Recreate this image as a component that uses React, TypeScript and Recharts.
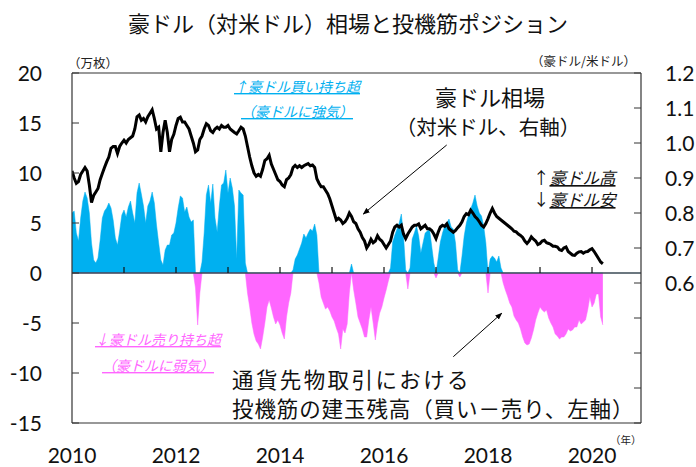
import React from "react";
import {
  ComposedChart,
  Area,
  Line,
  XAxis,
  YAxis,
  ReferenceLine,
} from "recharts";

// semimonthly observations starting Jan 2010
const START_YEAR = 2010;
const STEP = 1 / 24;

// speculative net positions (10k contracts)
const POSITIONS = [
  // 2010
  6.0, 6.2, 4.0, 3.2, 5.5, 7.2, 8.1, 7.5, 6.0, 3.0, 1.3, 1.0,
  1.5, 3.3, 5.5, 6.2, 6.5, 7.0, 6.5, 5.3, 3.5, 2.8, 4.2, 5.8,
  // 2011
  6.3, 5.6, 6.6, 7.2, 6.0, 5.0, 8.0, 9.0, 7.9, 6.7, 5.0, 6.7,
  7.2, 8.1, 7.0, 4.8, 3.0, 1.3, 0.8, 2.3, 2.8, 2.8, 3.8, 4.0,
  // 2012
  5.0, 6.5, 7.7, 7.5, 6.1, 6.6, 5.6, 5.1, 5.3, -1.5, -5.2, -2.0,
  1.1, 4.0, 7.8, 8.8, 7.0, 8.9, 5.5, 4.1, 6.7, 8.8, 9.0, 10.3,
  // 2013
  8.0, 9.5, 8.5, 6.7, 1.4, 8.3, 8.0, 7.8, 1.0, -2.0, -3.4, -5.0,
  -6.1, -6.8, -7.1, -7.6, -6.4, -5.0, -3.4, -2.7, -3.5, -4.4, -5.1, -4.7,
  // 2014
  -5.2, -6.0, -6.6, -4.4, -3.0, -2.0, 0.3, 1.4, 1.8, 2.4, 3.0, 3.9,
  3.5, 4.0, 4.4, 4.2, 4.9, 3.8, -1.0, -2.4, -3.0, -3.6, -3.4, -3.8,
  // 2015
  -4.4, -4.8, -5.5, -6.1, -7.6, -5.6, -6.0, -5.1, -2.0, 0.9, -1.7, -3.0,
  -4.4, -5.0, -5.6, -6.4, -6.4, -4.7, -3.4, -5.0, -6.7, -5.1, -4.0, -3.4,
  // 2016
  -2.5, -1.7, -0.8, 0.5, 3.1, 3.8, 4.4, 5.0, 5.9, 3.7, 0.3, -1.6,
  0.5, 3.4, 4.0, 4.7, 3.7, 2.0, 3.0, 4.0, 4.2, 4.4, 2.7, 1.0,
  // 2017
  -0.5, 1.5, 3.1, 4.0, 4.7, 5.0, 5.4, 4.6, 4.4, 3.0, 0.3, -0.4,
  1.7, 3.7, 5.0, 5.8, 6.4, 7.0, 7.8, 6.7, 6.0, 5.7, 4.7, 3.0,
  // 2018
  -2.0, 1.4, 1.7, 1.5, 1.1, 1.7, 0.5, -1.0, -1.7, -2.3, -3.0, -3.4,
  -4.3, -4.7, -5.0, -5.6, -6.4, -7.0, -7.2, -7.1, -6.5, -5.7, -4.7, -4.0,
  // 2019
  -3.4, -3.7, -3.9, -3.7, -4.5, -5.0, -5.4, -6.1, -6.3, -6.6, -6.4, -6.4,
  -6.1, -5.6, -5.8, -5.7, -5.4, -5.4, -4.7, -5.1, -4.9, -4.7, -3.7, -2.4,
  // 2020
  -3.4, -3.0, -2.1, -2.1, -4.4, -5.2,
];

// AUD/USD
const AUDUSD = [
  // 2010
  0.92, 0.9, 0.885, 0.89, 0.91, 0.92, 0.93, 0.92, 0.88, 0.83, 0.85, 0.86,
  0.87, 0.895, 0.913, 0.93, 0.946, 0.96, 0.985, 0.99, 0.99, 0.97, 0.99, 1.0,
  // 2011
  1.008, 1.0, 1.01, 1.015, 1.02, 1.04, 1.075, 1.08, 1.065, 1.07, 1.06, 1.075,
  1.085, 1.095, 1.07, 1.04, 1.045, 0.975, 1.03, 1.065, 1.03, 0.975, 1.01, 1.025,
  // 2012
  1.05, 1.07, 1.074, 1.06, 1.06, 1.05, 1.04, 1.02, 1.0, 0.975, 0.98, 1.01,
  1.02, 1.04, 1.055, 1.05, 1.035, 1.03, 1.04, 1.045, 1.04, 1.05, 1.045, 1.045,
  // 2013
  1.05, 1.04, 1.035, 1.03, 1.026, 1.035, 1.045, 1.04, 1.02, 0.99, 0.96, 0.935,
  0.915, 0.905, 0.91, 0.905, 0.925, 0.95, 0.955, 0.965, 0.94, 0.925, 0.91, 0.895,
  // 2014
  0.89, 0.88, 0.875, 0.895, 0.9, 0.91, 0.93, 0.936, 0.93, 0.935, 0.93, 0.935,
  0.938, 0.941, 0.935, 0.937, 0.93, 0.898, 0.885, 0.875, 0.875, 0.865, 0.855, 0.84,
  // 2015
  0.82, 0.8, 0.78, 0.785, 0.78, 0.77, 0.775, 0.785, 0.8, 0.79, 0.775, 0.77,
  0.755, 0.745, 0.73, 0.72, 0.7, 0.71, 0.725, 0.715, 0.72, 0.735, 0.725, 0.72,
  // 2016
  0.71, 0.7, 0.71, 0.72, 0.745, 0.76, 0.765, 0.76, 0.765, 0.74, 0.727, 0.74,
  0.75, 0.76, 0.765, 0.765, 0.769, 0.755, 0.76, 0.765, 0.755, 0.755, 0.75, 0.74,
  // 2017
  0.727, 0.745, 0.76, 0.765, 0.762, 0.769, 0.755, 0.75, 0.745, 0.75, 0.758, 0.765,
  0.775, 0.79, 0.798, 0.795, 0.808, 0.8, 0.79, 0.784, 0.775, 0.765, 0.76, 0.77,
  // 2018
  0.784, 0.8, 0.813, 0.8, 0.79, 0.785, 0.78, 0.775, 0.77, 0.765, 0.76, 0.755,
  0.748, 0.746, 0.74, 0.736, 0.73, 0.72, 0.713, 0.72, 0.732, 0.725, 0.72, 0.71,
  // 2019
  0.713, 0.72, 0.722, 0.715, 0.713, 0.71, 0.705, 0.705, 0.703, 0.695, 0.693, 0.7,
  0.703, 0.69, 0.685, 0.68, 0.679, 0.685, 0.689, 0.69, 0.685, 0.689, 0.69, 0.695,
  // 2020
  0.698, 0.69, 0.68, 0.67, 0.66, 0.655,
];

const X_LABEL_TICKS = [2010, 2012, 2014, 2016, 2018, 2020];
const X_MINOR_TICKS = [2011, 2012, 2013, 2014, 2015, 2016, 2017, 2018, 2019, 2020];
const LEFT_TICKS = [-15, -10, -5, 0, 5, 10, 15, 20];
const RIGHT_TICKS = [0.2, 0.3, 0.4, 0.5, 0.6, 0.7, 0.8, 0.9, 1.0, 1.1, 1.2];
const RIGHT_LABEL_MIN = 0.6;

const data = POSITIONS.map((p, i) => ({
  t: START_YEAR + i * STEP,
  pos: p > 0 ? p : 0,
  neg: p < 0 ? p : 0,
  aud: AUDUSD[i],
}));

const NUM_FONT = "Lato, 'Open Sans', sans-serif";
const JP_FONT = "'Noto Sans CJK JP', 'Noto Sans', sans-serif";
const AXIS_COLOR = "#333";
const BLUE = "#00B0F0";
const PINK = "#FF66FF";
const NUM_SIZE = 21;

const LeftTick = (p: any) => (
  <g>
    <line x1={p.x} x2={p.x + 7} y1={p.y} y2={p.y} stroke={AXIS_COLOR} strokeWidth={1} />
    <text
      x={p.x - 30}
      y={p.y + 7.5}
      textAnchor="end"
      fontFamily={NUM_FONT}
      fontSize={NUM_SIZE}
      fill="#111"
    >
      {p.payload.value}
    </text>
  </g>
);

const RightTick = (p: any) => {
  const v = p.payload.value;
  return (
    <g>
      <line x1={p.x - 7} x2={p.x} y1={p.y} y2={p.y} stroke={AXIS_COLOR} strokeWidth={1} />
      {v >= RIGHT_LABEL_MIN - 1e-9 && (
        <text
          x={p.x + 24}
          y={p.y + 7.5}
          textAnchor="start"
          fontFamily={NUM_FONT}
          fontSize={NUM_SIZE}
          fill="#111"
        >
          {Number(v).toFixed(1)}
        </text>
      )}
    </g>
  );
};

const BottomTick = (p: any) => (
  <text
    x={p.x}
    y={p.y + 40}
    textAnchor="middle"
    fontFamily={NUM_FONT}
    fontSize={NUM_SIZE}
    fill="#111"
  >
    {p.payload.value}
  </text>
);

const ul = { textDecoration: "underline" } as React.CSSProperties;

export default function App() {
  return (
    <div style={{ position: "absolute", left: 0, top: 0, width: 696, height: 467, background: "#fff" }}>
      <ComposedChart
        width={696}
        height={467}
        data={data}
        margin={{ top: 73, right: 0, bottom: 0, left: 0 }}
      >
        <XAxis
          dataKey="t"
          type="number"
          domain={[2010, 2020.942]}
          ticks={X_LABEL_TICKS}
          allowDataOverflow
          height={44}
          tickSize={0}
          tickMargin={0}
          tickLine={false}
          axisLine={{ stroke: AXIS_COLOR, strokeWidth: 1.2 }}
          tick={(p: any) => <BottomTick {...p} />}
          interval={0}
        />
        <YAxis
          yAxisId="left"
          orientation="left"
          domain={[-15, 20]}
          ticks={LEFT_TICKS}
          allowDataOverflow
          width={72}
          tickSize={0}
          tickMargin={0}
          tickLine={false}
          axisLine={{ stroke: AXIS_COLOR, strokeWidth: 1.2 }}
          tick={(p: any) => <LeftTick {...p} />}
          interval={0}
        />
        <YAxis
          yAxisId="right"
          orientation="right"
          domain={[0.2, 1.2]}
          ticks={RIGHT_TICKS}
          allowDataOverflow
          width={55}
          tickSize={0}
          tickMargin={0}
          tickLine={false}
          axisLine={{ stroke: AXIS_COLOR, strokeWidth: 1.2 }}
          tick={(p: any) => <RightTick {...p} />}
          interval={0}
        />
        <Area
          yAxisId="left"
          dataKey="pos"
          type="linear"
          baseValue={0}
          fill={BLUE}
          fillOpacity={1}
          stroke={BLUE}
          strokeWidth={0.5}
          isAnimationActive={false}
        />
        <Area
          yAxisId="left"
          dataKey="neg"
          type="linear"
          baseValue={0}
          fill={PINK}
          fillOpacity={1}
          stroke={PINK}
          strokeWidth={0.5}
          isAnimationActive={false}
        />
        <ReferenceLine yAxisId="left" y={0} stroke="#3a4a55" strokeWidth={1.5} />
        <ReferenceLine yAxisId="left" y={20} stroke={AXIS_COLOR} strokeWidth={1.2} />
        {X_MINOR_TICKS.map((yr) => (
          <ReferenceLine
            key={yr}
            yAxisId="left"
            segment={[
              { x: yr, y: 0 },
              { x: yr, y: 0.6 },
            ]}
            stroke="#111"
            strokeWidth={1.2}
          />
        ))}
        <Line
          yAxisId="right"
          dataKey="aud"
          type="linear"
          stroke="#000"
          strokeWidth={3}
          dot={false}
          isAnimationActive={false}
        />
      </ComposedChart>

      <svg
        width={696}
        height={467}
        style={{ position: "absolute", left: 0, top: 0, pointerEvents: "none" }}
      >
        <defs>
          <marker id="arr" viewBox="0 0 10 10" refX="9" refY="5" markerWidth="7" markerHeight="7" orient="auto">
            <path d="M0,1 L10,5 L0,9 z" fill="#000" />
          </marker>
        </defs>
        <text x={348} y={31.5} textAnchor="middle" fontFamily={JP_FONT} fontSize={22} fill="#111">
          豪ドル（対米ドル）相場と投機筋ポジション
        </text>
        <text x={68} y={68} textAnchor="start" fontFamily={JP_FONT} fontSize={12.5} fill="#222">
          （万枚）
        </text>
        <text x={636} y={66} textAnchor="end" fontFamily={JP_FONT} fontSize={12.5} fill="#222">
          （豪ドル/米ドル）
        </text>
        <text x={610} y={444} textAnchor="start" fontFamily={JP_FONT} fontSize={10.5} fill="#222">
          （年）
        </text>

        <text textAnchor="middle" fontFamily={JP_FONT} fontSize={14} fill={BLUE} fontStyle="italic">
          <tspan x={297} y={92} style={ul}>↑豪ドル買い持ち超</tspan>
          <tspan x={297} y={117} style={ul}>（豪ドルに強気）</tspan>
        </text>

        <text textAnchor="middle" fontFamily={JP_FONT} fontSize={14} fill={PINK} fontStyle="italic">
          <tspan x={158} y={345} style={ul}>↓豪ドル売り持ち超</tspan>
          <tspan x={158} y={371} style={ul}>（豪ドルに弱気）</tspan>
        </text>

        <text textAnchor="middle" fontFamily={JP_FONT} fill="#111">
          <tspan x={490} y={106} fontSize={22}>豪ドル相場</tspan>
          <tspan x={488} y={135} fontSize={20.5}>（対米ドル、右軸）</tspan>
        </text>
        <line x1={446.7} y1={145} x2={363.3} y2={214} stroke="#000" strokeWidth={1} markerEnd="url(#arr)" />

        <text textAnchor="start" fontFamily={JP_FONT} fontSize={16.5} fill="#111">
          <tspan x={533} y={184}>↑</tspan>
          <tspan fontStyle="italic" style={ul}>豪ドル高</tspan>
          <tspan x={533} y={206}>↓</tspan>
          <tspan fontStyle="italic" style={ul}>豪ドル安</tspan>
        </text>

        <text textAnchor="start" fontFamily={JP_FONT} fontSize={21.5} fill="#111">
          <tspan x={232} y={387.5} letterSpacing={2.4}>通貨先物取引における</tspan>
          <tspan x={232} y={416.5} letterSpacing={0.9}>投機筋の建玉残高（買い－売り、左軸）</tspan>
        </text>
        <line x1={453.3} y1={356.7} x2={501.7} y2={313.3} stroke="#000" strokeWidth={1} markerEnd="url(#arr)" />
      </svg>
    </div>
  );
}
